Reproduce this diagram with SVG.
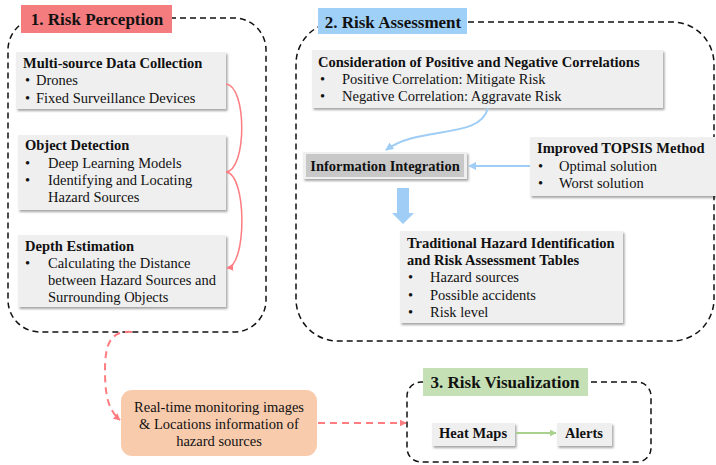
<svg xmlns="http://www.w3.org/2000/svg" width="716" height="465" viewBox="0 0 716 465">
<defs>
<filter id="sh" x="-10%" y="-10%" width="120%" height="130%">
<feDropShadow dx="1.5" dy="2" stdDeviation="1.2" flood-color="#000" flood-opacity="0.35"/>
</filter>
<marker id="ar" viewBox="0 0 10 10" refX="9" refY="5" markerWidth="7" markerHeight="7" orient="auto" markerUnits="userSpaceOnUse"><path d="M0,0 L10,5 L0,10 z" fill="#ff7c80"/></marker>
<marker id="ab" viewBox="0 0 10 10" refX="9" refY="5" markerWidth="8" markerHeight="8" orient="auto" markerUnits="userSpaceOnUse"><path d="M0,0 L10,5 L0,10 z" fill="#9fcdf5"/></marker>
<marker id="ag" viewBox="0 0 10 10" refX="9" refY="5" markerWidth="7" markerHeight="7" orient="auto" markerUnits="userSpaceOnUse"><path d="M0,0 L10,5 L0,10 z" fill="#a9d18e"/></marker>
</defs>
<style>
text{font-family:"Liberation Serif","Times New Roman",serif;fill:#111}
.t{font-size:17px;font-weight:bold}
.h{font-size:14.5px;font-weight:bold}
.b{font-size:14.5px}
.box{fill:#efefef;filter:url(#sh)}
.grp{fill:none;stroke:#111;stroke-width:1.5;stroke-dasharray:6 4}
</style>
<rect width="716" height="465" fill="#fff"/>

<g id="group1">
<rect class="grp" x="8" y="18" width="258" height="314" rx="32"/>
<rect x="21" y="5" width="151" height="28" fill="#f47b7e"/>
<text class="t" x="97" y="25" text-anchor="middle">1. Risk Perception</text>
</g>
<g id="group2">
<rect class="grp" x="296" y="22" width="418" height="319" rx="42"/>
<rect x="318" y="8" width="149" height="26" fill="#9fd0f7"/>
<text class="t" x="393" y="28" text-anchor="middle">2. Risk Assessment</text>
</g>
<g id="group3">
<rect class="grp" x="407" y="382" width="244" height="80" rx="14"/>
<rect x="423" y="368" width="165" height="28" fill="#c5e0b4"/>
<text class="t" x="505" y="388" text-anchor="middle">3. Risk Visualization</text>
</g>

<g id="multisource">
<rect class="box" x="16" y="52" width="210" height="57"/>
<text class="h" x="23" y="68">Multi-source Data Collection</text>
<text class="b" x="25" y="85">•</text><text class="b" x="36" y="85">Drones</text>
<text class="b" x="25" y="103">•</text><text class="b" x="36" y="103">Fixed Surveillance Devices</text>
</g>
<g id="objectdetection">
<rect class="box" x="18" y="135" width="208" height="75"/>
<text class="h" x="25" y="150">Object Detection</text>
<text class="b" x="25" y="168">•</text><text class="b" x="48" y="168">Deep Learning Models</text>
<text class="b" x="25" y="185">•</text><text class="b" x="48" y="185">Identifying and Locating</text>
<text class="b" x="48" y="202">Hazard Sources</text>
</g>
<g id="depth">
<rect class="box" x="18" y="235" width="208" height="72"/>
<text class="h" x="25" y="251">Depth Estimation</text>
<text class="b" x="25" y="268">•</text><text class="b" x="48" y="268">Calculating the Distance</text>
<text class="b" x="48" y="285">between Hazard Sources and</text>
<text class="b" x="48" y="302">Surrounding Objects</text>
</g>

<g id="correlations">
<rect class="box" x="312" y="50" width="351" height="58"/>
<text class="h" x="318" y="67">Consideration of Positive and Negative Correlations</text>
<text class="b" x="320" y="84">•</text><text class="b" x="342" y="84">Positive Correlation: Mitigate Risk</text>
<text class="b" x="320" y="101">•</text><text class="b" x="342" y="101">Negative Correlation: Aggravate Risk</text>
</g>
<g id="integration">
<rect x="303" y="152" width="164" height="27" fill="#efefef" filter="url(#sh)"/>
<rect x="306" y="154" width="158" height="23" fill="#c8c8c8"/>
<text class="h" x="385" y="171" text-anchor="middle">Information Integration</text>
</g>
<g id="topsis">
<rect class="box" x="530" y="137" width="186" height="59"/>
<text class="h" x="537" y="153">Improved TOPSIS Method</text>
<text class="b" x="538" y="171">•</text><text class="b" x="559" y="171">Optimal solution</text>
<text class="b" x="538" y="188">•</text><text class="b" x="559" y="188">Worst solution</text>
</g>
<g id="traditional">
<rect class="box" x="400" y="231" width="223" height="92"/>
<text class="h" x="407" y="248">Traditional Hazard Identification</text>
<text class="h" x="407" y="265">and Risk Assessment Tables</text>
<text class="b" x="408" y="282">•</text><text class="b" x="430" y="282">Hazard sources</text>
<text class="b" x="408" y="300">•</text><text class="b" x="430" y="300">Possible accidents</text>
<text class="b" x="408" y="317">•</text><text class="b" x="430" y="317">Risk level</text>
</g>

<g id="realtime">
<rect x="121" y="390" width="196" height="66" rx="11" fill="#f8cbad"/>
<text class="b" x="219" y="412" text-anchor="middle" font-size="15">Real-time monitoring images</text>
<text class="b" x="219" y="429" text-anchor="middle" font-size="15">&amp; Locations information of</text>
<text class="b" x="219" y="446" text-anchor="middle" font-size="15">hazard sources</text>
</g>

<g id="heatmaps">
<rect class="box" x="432" y="423" width="83" height="23"/>
<text class="h" x="473" y="438" text-anchor="middle">Heat Maps</text>
</g>
<g id="alerts">
<rect class="box" x="557" y="423" width="55" height="23"/>
<text class="h" x="584" y="438" text-anchor="middle">Alerts</text>
</g>

<g id="connectors" fill="none">
<path d="M226,84 C247,86 247,170 226,172" stroke="#ff7c80" stroke-width="1.5"/>
<path d="M226,172 C247,174 247,266 227,268" stroke="#ff7c80" stroke-width="1.5" marker-end="url(#ar)"/>
<path d="M488,108 C480,140 420,125 386,150" stroke="#9fcdf5" stroke-width="2" marker-end="url(#ab)"/>
<path d="M530,166 L469,166" stroke="#9fcdf5" stroke-width="2" marker-end="url(#ab)"/>
<path d="M397,188 L409,188 L409,213 L414,213 L403,224 L392,213 L397,213 Z" fill="#9fcdf5"/>
<path d="M132,332 C110,330 105,345 105,370 C105,395 108,410 120,420" stroke="#ff7c80" stroke-width="2" stroke-dasharray="7 5" marker-end="url(#ar)"/>
<path d="M318,423 L406,423" stroke="#ff7c80" stroke-width="2" stroke-dasharray="7 5" marker-end="url(#ar)"/>
<path d="M516,433 L556,433" stroke="#a9d18e" stroke-width="2" marker-end="url(#ag)"/>
</g>
</svg>
